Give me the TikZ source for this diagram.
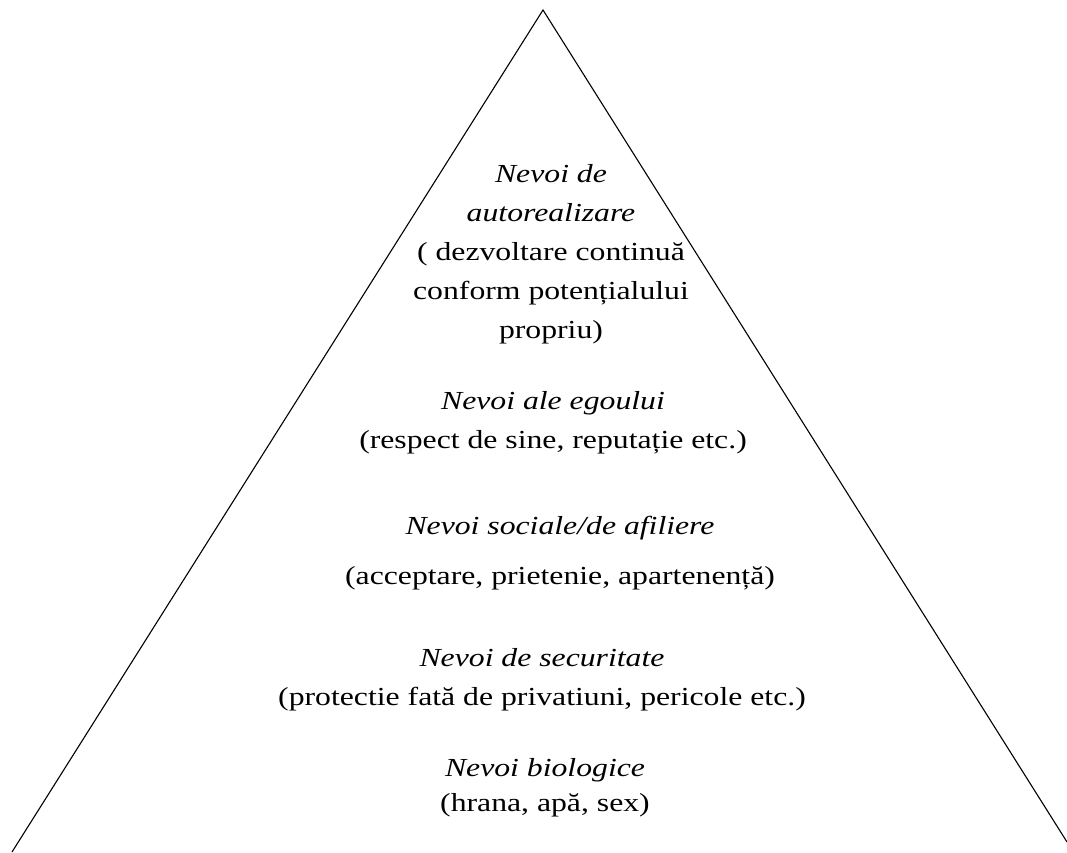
\documentclass[tikz,border=0pt]{standalone}
\usepackage{fontspec}
\setmainfont{Liberation Serif}[FakeStretch=1.22]
\usepackage{tikz}

\begin{document}
\begin{tikzpicture}[x=1pt,y=-1pt,
  level/.style={align=center,inner sep=0pt,font=\fontsize{26}{39}\selectfont}]

\useasboundingbox (0,0) rectangle (1067,852);

\coordinate (0) at (543,10);
\coordinate (1) at (12,852);
\coordinate (2) at (1067,842);

\draw[line width=1.1pt] (1) -- (0) -- (2);

\node[level] (self) at (551,254) {\textit{Nevoi de}\\ \textit{autorealizare}\\ ( dezvoltare continuă\\ conform potențialului\\ propriu)};
\node[level] (ego) at (553,423) {\textit{Nevoi ale egoului}\\ (respect de sine, reputație etc.)};
\node[level] (social) at (560,553) {\textit{Nevoi sociale/de afiliere}\\[11pt] (acceptare, prietenie, apartenență)};
\node[level] (safe) at (542,680) {\textit{Nevoi de securitate}\\ (protectie fată de privatiuni, pericole etc.)};
\node[level] (bio) at (545,788) {\textit{Nevoi biologice}\\[-4pt] (hrana, apă, sex)};

\end{tikzpicture}
\end{document}
